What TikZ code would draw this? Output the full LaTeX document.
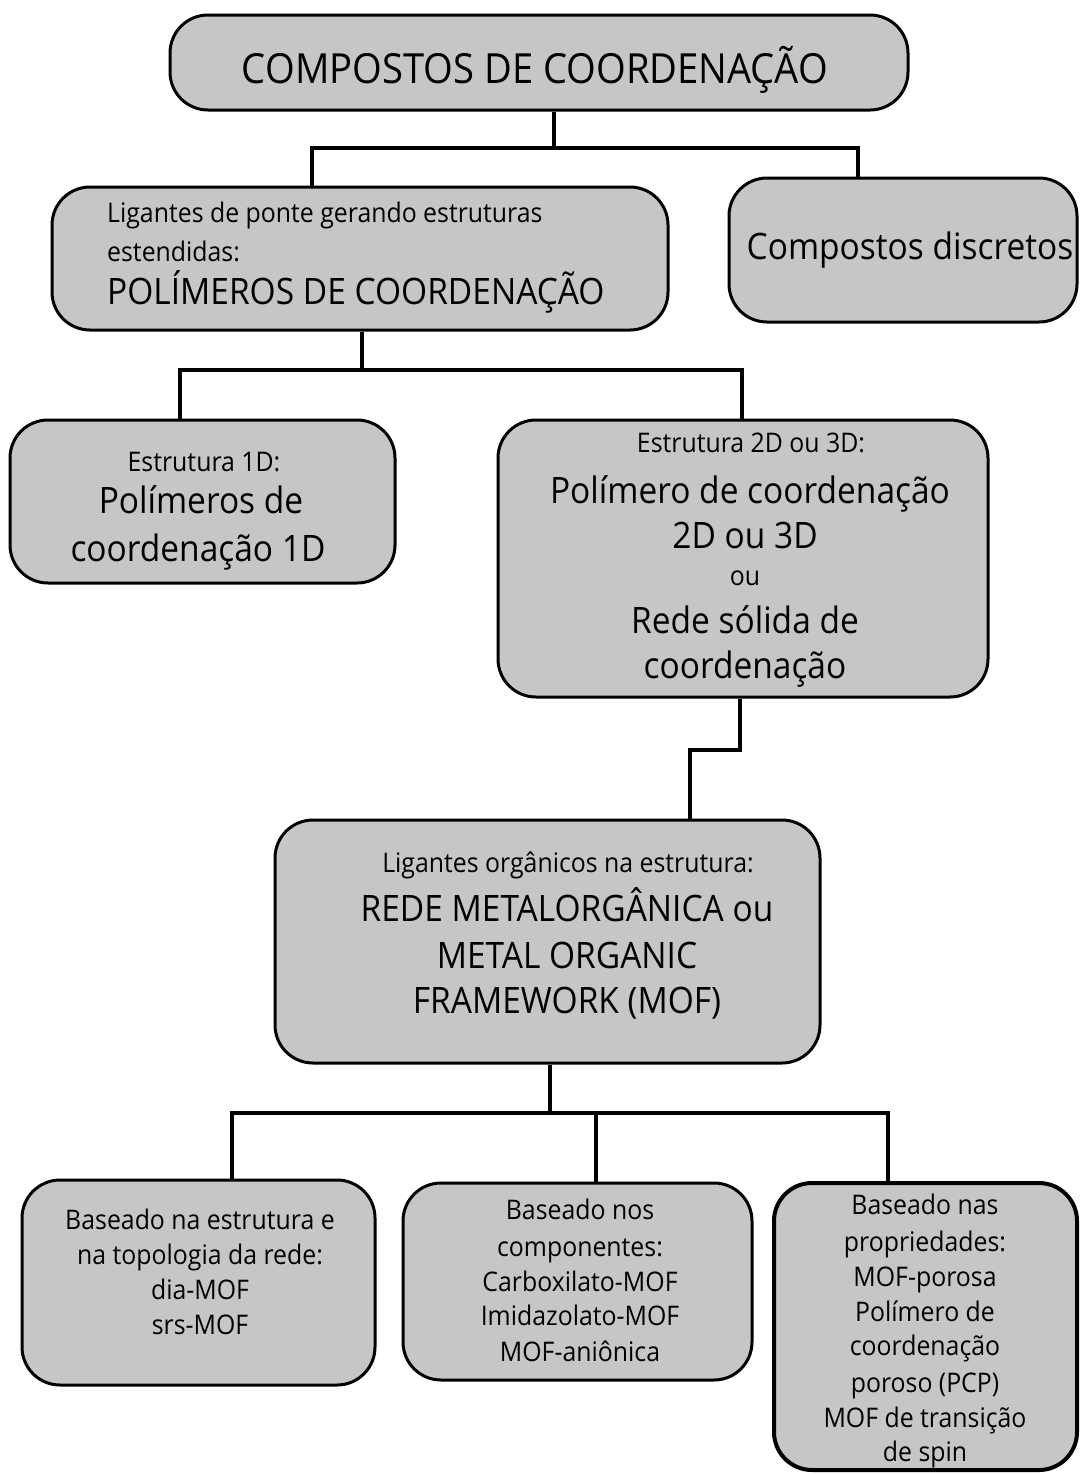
\documentclass[tikz,border=0pt]{standalone}
\usepackage{fontspec}
\setmainfont{Open Sans}[FakeStretch=0.92]
\definecolor{boxgray}{RGB}{198,198,198}
\begin{document}
\begin{tikzpicture}[x=1pt,y=-1pt,
  box/.style={draw=black, line width=3pt, fill=boxgray, rounded corners=38pt, rectangle, inner sep=0pt},
  conn/.style={line width=4pt, black},
  sm/.style={font=\fontsize{27}{32}\selectfont, anchor=base, inner sep=0pt},
  bg/.style={font=\fontsize{36.4}{44}\selectfont, anchor=base, inner sep=0pt},
  tp/.style={font=\fontsize{41.5}{50}\selectfont, anchor=base, inner sep=0pt}]
\useasboundingbox (0,0) rectangle (1081,1475);

% boxes
\node[box, minimum width=738pt, minimum height=95pt] (top) at (539,62.5) {};
\node[box, minimum width=616pt, minimum height=143pt] (lig) at (360,258.5) {};
\node[box, minimum width=348pt, minimum height=144pt] (disc) at (903,250) {};
\node[box, minimum width=385pt, minimum height=163pt] (one) at (202.5,501.5) {};
\node[box, minimum width=490pt, minimum height=277pt] (two) at (743,558.5) {};
\node[box, minimum width=545pt, minimum height=243pt] (mof) at (547.5,941.5) {};
\node[box, minimum width=353pt, minimum height=205pt] (bl) at (198.5,1282.5) {};
\node[box, minimum width=349pt, minimum height=197pt] (bm) at (577.5,1281.5) {};
\node[box, line width=4pt, minimum width=303pt, minimum height=287pt] (br) at (925.5,1326.5) {};

% texts
\node[tp] (t0) at (535,83) {COMPOSTOS DE COORDENAÇÃO};

\node[sm, anchor=base west] (t1a) at (107,222) {Ligantes de ponte gerando estruturas};
\node[sm, anchor=base west] (t1b) at (107,261) {estendidas:};
\node[bg, anchor=base west] (t1c) at (107,304) {POLÍMEROS DE COORDENAÇÃO};

\node[bg] (t2) at (910,259) {Compostos discretos};

\node[sm] (t3a) at (204,471) {Estrutura 1D:};
\node[bg] (t3b) at (201,513) {Polímeros de};
\node[bg] (t3c) at (198,561) {coordenação 1D};

\node[sm] (t4a) at (751,452) {Estrutura 2D ou 3D:};
\node[bg] (t4b) at (750,503) {Polímero de coordenação};
\node[bg] (t4c) at (745,548) {2D ou 3D};
\node[sm] (t4d) at (745,585) {ou};
\node[bg] (t4e) at (745,633) {Rede sólida de};
\node[bg] (t4f) at (745,678) {coordenação};

\node[sm] (t5a) at (568,872) {Ligantes orgânicos na estrutura:};
\node[bg] (t5b) at (567,921) {REDE METALORGÂNICA ou};
\node[bg] (t5c) at (567,968) {METAL ORGANIC};
\node[bg] (t5d) at (567,1013) {FRAMEWORK (MOF)};

\node[sm] (t6a) at (200,1229) {Baseado na estrutura e};
\node[sm] (t6b) at (200,1264) {na topologia da rede:};
\node[sm] (t6c) at (200,1299) {dia-MOF};
\node[sm] (t6d) at (200,1334) {srs-MOF};

\node[sm] (t7a) at (580,1219) {Baseado nos};
\node[sm] (t7b) at (580,1256) {componentes:};
\node[sm] (t7c) at (580,1291) {Carboxilato-MOF};
\node[sm] (t7d) at (580,1325) {Imidazolato-MOF};
\node[sm] (t7e) at (580,1361) {MOF-aniônica};

\node[sm] (t8a) at (925,1214) {Baseado nas};
\node[sm] (t8b) at (925,1251) {propriedades:};
\node[sm] (t8c) at (925,1286) {MOF-porosa};
\node[sm] (t8d) at (925,1321) {Polímero de};
\node[sm] (t8e) at (925,1355) {coordenação};
\node[sm] (t8f) at (925,1392) {poroso (PCP)};
\node[sm] (t8g) at (925,1427) {MOF de transição};
\node[sm] (t8h) at (925,1461) {de spin};

% connectors
\coordinate (j1) at (554,148);
\coordinate (l1) at (312,148);
\coordinate (r1) at (858,148);
\draw[conn] (top.south -| j1) -- (j1);
\draw[conn] (lig.north -| l1) -- (l1) -- (r1) -- (disc.north -| r1);

\coordinate (j2) at (362,370);
\coordinate (l2) at (180,370);
\coordinate (r2) at (742,370);
\draw[conn] (lig.south -| j2) -- (j2);
\draw[conn] (one.north -| l2) -- (l2) -- (r2) -- (two.north -| r2);

\coordinate (j3) at (740,750);
\coordinate (k3) at (690,750);
\draw[conn] (two.south -| j3) -- (j3) -- (k3) -- (mof.north -| k3);

\coordinate (j4) at (550,1113);
\coordinate (l4) at (232,1113);
\coordinate (m4) at (596,1113);
\coordinate (r4) at (888,1113);
\draw[conn] (mof.south -| j4) -- (j4);
\draw[conn] (bl.north -| l4) -- (l4) -- (r4) -- (br.north -| r4);
\draw[conn] (bm.north -| m4) -- (m4);
\end{tikzpicture}
\end{document}
